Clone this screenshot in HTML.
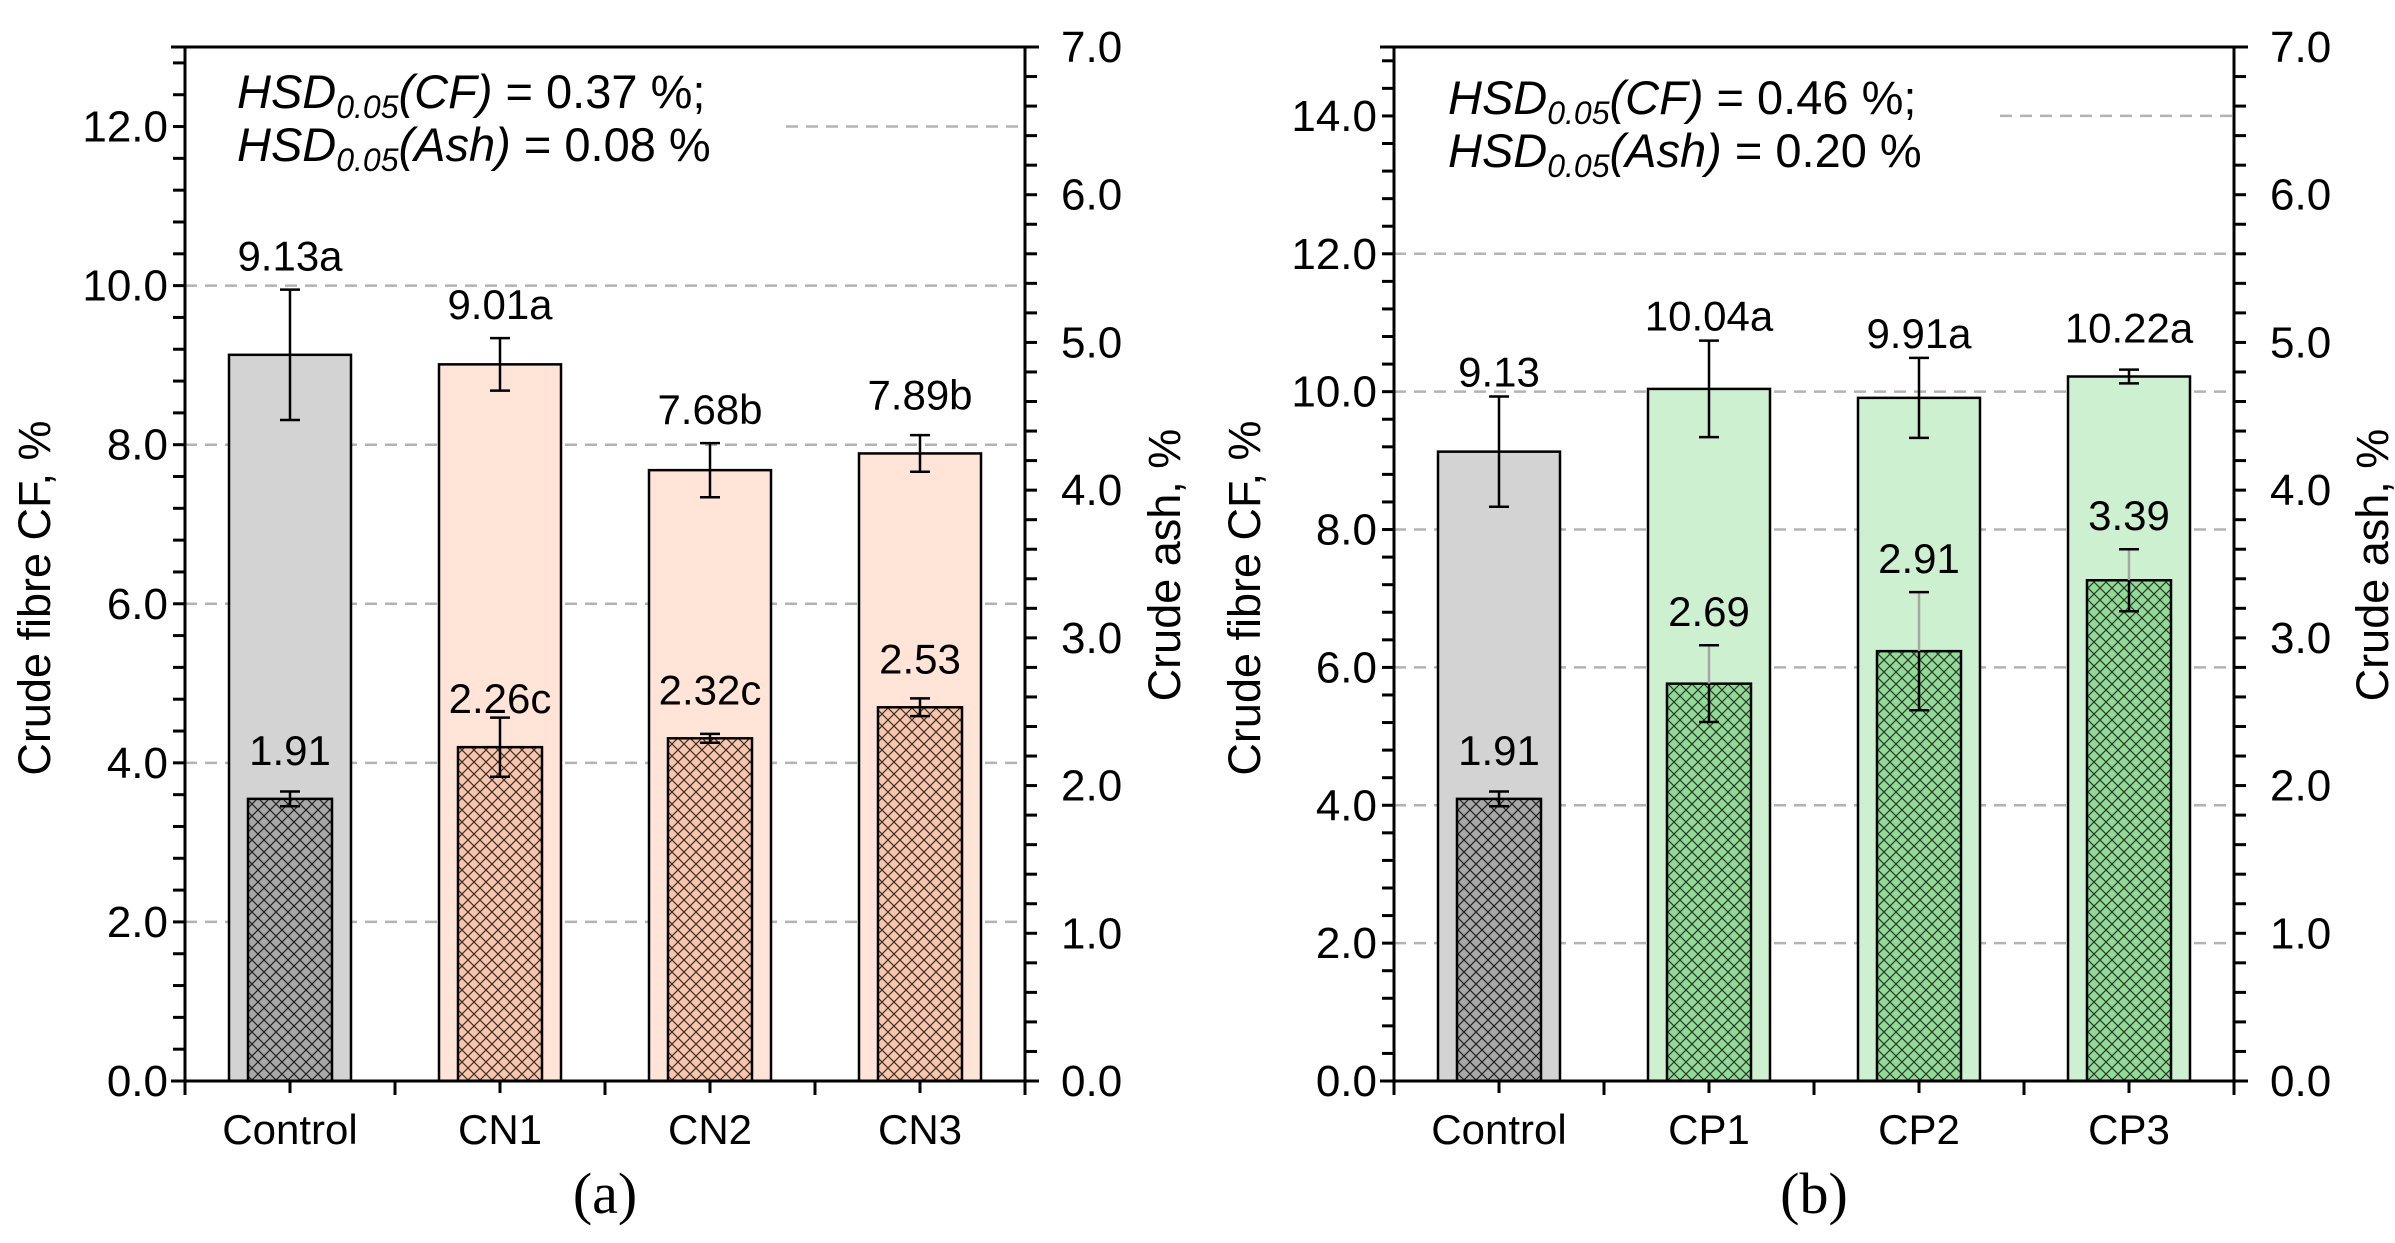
<!DOCTYPE html>
<html><head><meta charset="utf-8">
<style>
html,body{margin:0;padding:0;background:#fff;}
svg{display:block;font-family:"Liberation Sans",Arial,sans-serif;}
</style></head>
<body>
<svg id="fig" width="2395" height="1243" viewBox="0 0 2395 1243" xmlns="http://www.w3.org/2000/svg">
<defs>
<pattern id="hatch-grey" width="12" height="12" patternUnits="userSpaceOnUse">
<rect width="12" height="12" fill="#a8a8a8"/><path d="M0,0L12,12M12,0L0,12" stroke="#222" stroke-width="1.2"/></pattern>
<pattern id="hatch-salmon" width="12" height="12" patternUnits="userSpaceOnUse">
<rect width="12" height="12" fill="#fcc4a8"/><path d="M0,0L12,12M12,0L0,12" stroke="#333" stroke-width="1.2"/></pattern>
<pattern id="hatch-green" width="12" height="12" patternUnits="userSpaceOnUse">
<rect width="12" height="12" fill="#8fdc95"/><path d="M0,0L12,12M12,0L0,12" stroke="#333" stroke-width="1.2"/></pattern>
</defs>
<g id="panelA"></g>
<g id="panelB"></g>
</svg>
<script>
// Panel (a)
const catsA = ["Control","CN1","CN2","CN3"];
const cfA = [9.13, 9.01, 7.68, 7.89];
const cfErrA = [0.82, 0.33, 0.34, 0.23];
const cfLabA = ["9.13a","9.01a","7.68b","7.89b"];
const ashA = [1.91, 2.26, 2.32, 2.53];
const ashErrA = [0.05, 0.20, 0.03, 0.06];
const ashLabA = ["1.91","2.26c","2.32c","2.53"];
const leftTicksA = ["0.0","2.0","4.0","6.0","8.0","10.0","12.0"];
// Panel (b)
const catsB = ["Control","CP1","CP2","CP3"];
const cfB = [9.13, 10.04, 9.91, 10.22];
const cfErrB = [0.80, 0.70, 0.58, 0.10];
const cfLabB = ["9.13","10.04a","9.91a","10.22a"];
const ashB = [1.91, 2.69, 2.91, 3.39];
const ashErrB = [0.05, 0.26, 0.40, 0.21];
const ashLabB = ["1.91","2.69","2.91","3.39"];
const leftTicksB = ["0.0","2.0","4.0","6.0","8.0","10.0","12.0","14.0"];
const rightTicks = ["0.0","1.0","2.0","3.0","4.0","5.0","6.0","7.0"];

const NS="http://www.w3.org/2000/svg";
function mk(parent, tag, attrs, text){
  const e=document.createElementNS(NS,tag);
  for(const k in attrs) e.setAttribute(k, attrs[k]);
  if(text!==undefined) e.textContent=text;
  parent.appendChild(e); return e;
}

function panel(g, o){
  const x0=o.x0, x1=o.x0+840, y0=1081, yT=47;
  const yL=v=>y0-v*(y0-yT)/o.lmax;
  const yR=v=>y0-v*(y0-yT)/7;
  const cw=(x1-x0)/o.cats.length;
  const cx=i=>x0+cw*(i+0.5);
  o.lticks.forEach((t,i)=>{
    const v=parseFloat(t); if(v===0) return;
    const sx=(i===o.lticks.length-1)? o.topGridStart : x0;
    const l=mk(g,'line',{x1:sx,x2:x1,y1:yL(v),y2:yL(v),stroke:'#b3b3b3','stroke-width':2.5,'stroke-dasharray':'12 8'});
    
    
  });
  o.cats.forEach((c,i)=>{
    const isC=i===0;
    const outer=mk(g,'rect',{x:cx(i)-61,y:yL(o.cf[i]),width:122,height:y0-yL(o.cf[i]),fill:isC?'#d3d3d3':o.light,stroke:'#000','stroke-width':2.5});
    
    
    const inner=mk(g,'rect',{x:cx(i)-42,y:yR(o.ash[i]),width:84,height:y0-yR(o.ash[i]),fill:isC?'url(#hatch-grey)':o.hatch,stroke:'#000','stroke-width':2.5});
    
    
  });
  o.cats.forEach((c,i)=>{
    const x=cx(i);
    const eg=mk(g,'g',{stroke:'#000','stroke-width':2.5});
    
    
    const t=yL(o.cf[i]+o.cfErr[i]), b=yL(o.cf[i]-o.cfErr[i]);
    mk(eg,'line',{x1:x,x2:x,y1:t,y2:b});
    mk(eg,'line',{x1:x-10,x2:x+10,y1:t,y2:t});
    mk(eg,'line',{x1:x-10,x2:x+10,y1:b,y2:b});
    const ag=mk(g,'g',{stroke:'#000','stroke-width':2.5});
    
    
    const at=yR(o.ash[i]+o.ashErr[i]), ab=yR(o.ash[i]-o.ashErr[i]), am=yR(o.ash[i]);
    if(o.greyStem && i>0){
      mk(ag,'line',{x1:x,x2:x,y1:at,y2:am,stroke:'#a6a6a6'});
      mk(ag,'line',{x1:x,x2:x,y1:am,y2:ab});
    } else mk(ag,'line',{x1:x,x2:x,y1:at,y2:ab});
    mk(ag,'line',{x1:x-10,x2:x+10,y1:at,y2:at});
    mk(ag,'line',{x1:x-10,x2:x+10,y1:ab,y2:ab});
    const ly=Math.min(yL(o.cf[i])-o.cfOff[0], t-o.cfOff[1]);
    const l1=mk(g,'text',{x:x,y:ly,'text-anchor':'middle','font-size':42},o.cfLab[i]);
    
    
    const ly2=Math.min(am-o.ashOff[0], at-o.ashOff[1]);
    const l2=mk(g,'text',{x:x,y:ly2,'text-anchor':'middle','font-size':42},o.ashLab[i]);
    
    
    const cl=mk(g,'text',{x:x,y:1144,'text-anchor':'middle','font-size':42},c);
    
    
  });
  const ax=mk(g,'g',{stroke:'#000','stroke-width':3,fill:'none'});
  
  
  mk(ax,'line',{x1:x0-14,x2:x1+14,y1:y0,y2:y0});
  mk(ax,'line',{x1:x0,x2:x0,y1:yT,y2:y0+14});
  mk(ax,'line',{x1:x1,x2:x1,y1:yT,y2:y0+14});
  mk(ax,'line',{x1:x0-14,x2:x1+14,y1:yT,y2:yT});
  for(let i=1;i<o.cats.length;i++) mk(ax,'line',{x1:x0+cw*i,x2:x0+cw*i,y1:y0,y2:y0+14});
  for(let i=0;i<o.cats.length;i++) mk(ax,'line',{x1:cx(i),x2:cx(i),y1:y0,y2:y0+12});
  for(let v=0; v<=o.lmax+0.001; v+=0.4) mk(ax,'line',{x1:x0-12,x2:x0,y1:yL(v),y2:yL(v)});
  for(let v=0; v<=7.001; v+=0.2) mk(ax,'line',{x1:x1,x2:x1+12,y1:yR(v),y2:yR(v)});
  o.lticks.forEach(t=>{
    const e=mk(g,'text',{x:x0-17,y:yL(parseFloat(t))+15,'text-anchor':'end','font-size':44},t);
    
    
  });
  rightTicks.forEach(t=>{
    const e=mk(g,'text',{x:x1+36,y:yR(parseFloat(t))+15,'font-size':44},t);
    
    
  });
  const yt=mk(g,'text',{x:0,y:0,'font-size':45,'text-anchor':'middle',transform:`translate(${o.ltx},598) rotate(-90)`},'Crude fibre CF, %');
  
  
  const rt=mk(g,'text',{x:0,y:0,'font-size':45,'text-anchor':'middle',transform:`translate(${o.rtx},565) rotate(-90)`},'Crude ash, %');
  
  
  const h=o.hsd;
  [['CF',h[0],o.hy],['Ash',h[1],o.hy+53]].forEach(r=>{
    const t=mk(g,'text',{x:o.hx,y:r[2],'font-size':47});
    
    
    mk(t,'tspan',{'font-style':'italic'},'HSD');
    mk(t,'tspan',{'font-style':'italic','font-size':32,dy:10},'0.05');
    mk(t,'tspan',{'font-style':'italic',dy:-10},'('+r[0]+')');
    mk(t,'tspan',{},' = '+r[1]);
  });
  const cap=mk(g,'text',{x:x0+420,y:1213,'text-anchor':'middle','font-size':58,'font-family':'Liberation Serif, serif'},o.caption);
  
  
}

panel(document.getElementById('panelA'),{x0:185,lmax:13,cats:catsA,cf:cfA,cfErr:cfErrA,cfLab:cfLabA,ash:ashA,ashErr:ashErrA,ashLab:ashLabA,
  lticks:leftTicksA,light:'#ffe4d7',hatch:'url(#hatch-salmon)',topGridStart:786,ltx:50,rtx:1180,hsd:['0.37 %;','0.08 %'],hx:237,hy:108,caption:'(a)',greyStem:false,
  cfOff:[44,19],ashOff:[34,-100]});
panel(document.getElementById('panelB'),{x0:1394,lmax:15,cats:catsB,cf:cfB,cfErr:cfErrB,cfLab:cfLabB,ash:ashB,ashErr:ashErrB,ashLab:ashLabB,
  lticks:leftTicksB,light:'#cdf1d0',hatch:'url(#hatch-green)',topGridStart:2000,ltx:1260,rtx:2388,hsd:['0.46 %;','0.20 %'],hx:1448,hy:114,caption:'(b)',greyStem:true,
  cfOff:[34,10],ashOff:[34,19]});
</script>
</body></html>
